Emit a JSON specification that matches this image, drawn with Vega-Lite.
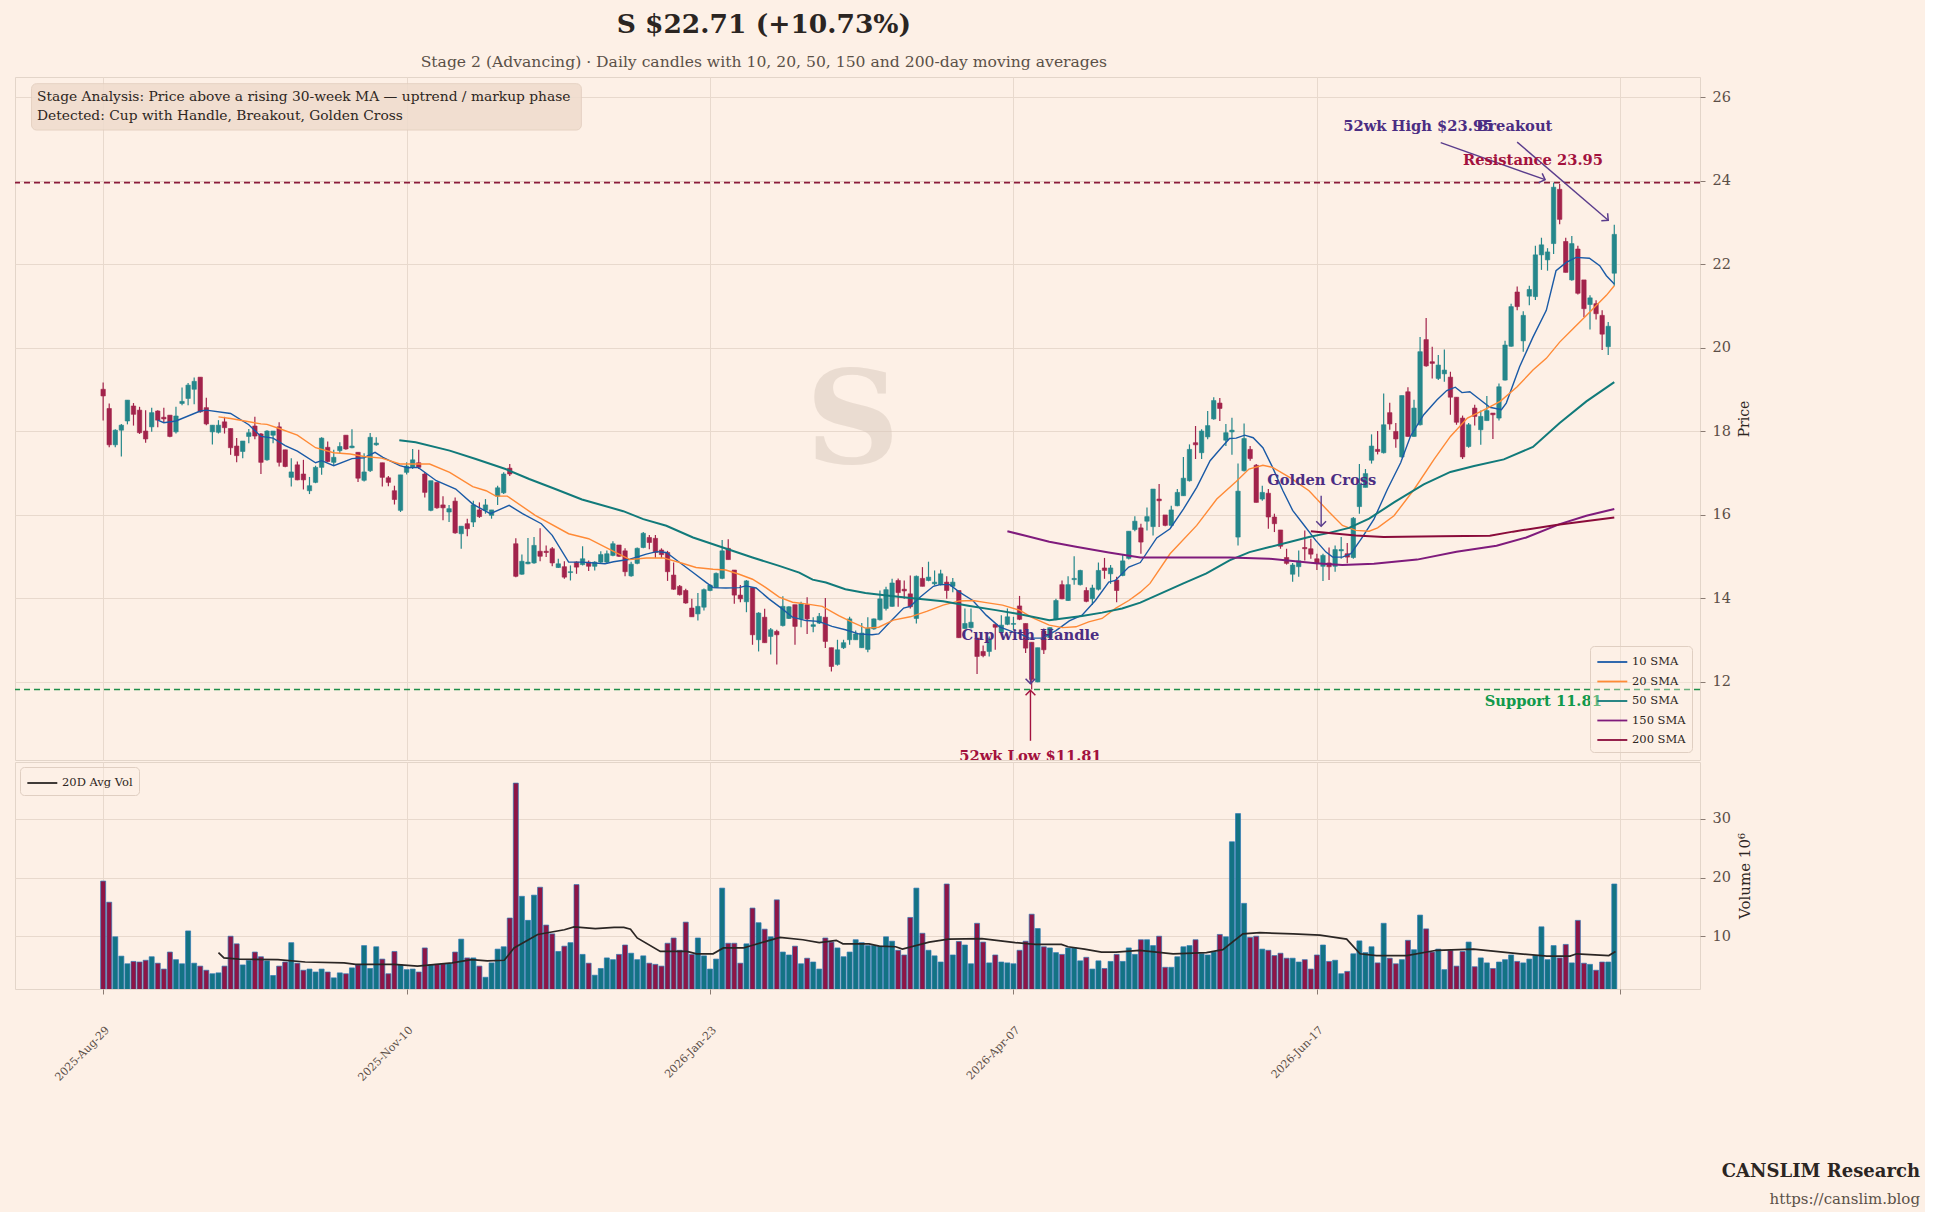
{
  "$schema": "https://vega.github.io/schema/vega-lite/v6.json",
  "background": "#fdf0e6",
  "padding": {"left": 13, "top": 12, "right": 5, "bottom": 5},
  "config": {
    "font": "DejaVu Serif",
    "view": {"stroke": "#e3d5c9", "strokeWidth": 1},
    "axis": {
      "labelFont": "DejaVu Serif", "labelColor": "#5b4e46", "labelFontSize": 14.5,
      "titleFont": "DejaVu Serif", "titleColor": "#2d2622", "titleFontSize": 14.5, "titleFontWeight": "normal",
      "gridColor": "#e8d9cd", "gridWidth": 1, "tickColor": "#8a7b72", "domain": false
    },
    "legend": {
      "labelFont": "DejaVu Serif", "labelColor": "#2d2622", "labelFontSize": 11.5,
      "fillColor": "rgba(253,240,230,0.35)", "strokeColor": "#e0cfc2", "cornerRadius": 4, "padding": 6,
      "symbolType": "M-1,0L2.46,0", "symbolStrokeWidth": 1.8, "symbolSize": 300, "rowPadding": 3.5, "labelOffset": 16
    }
  },
  "title": {
    "text": "S  $22.71  (+10.73%)",
    "subtitle": "Stage 2 (Advancing)  ·  Daily candles with 10, 20, 50, 150 and 200-day moving averages",
    "anchor": "middle", "dx": -203, "fontSize": 26.5, "fontWeight": "bold", "color": "#2b2522",
    "subtitleFontSize": 15.6, "subtitleColor": "#5b5048", "subtitlePadding": 16, "offset": 6
  },
  "spacing": 0,
  "resolve": {"scale": {"x": "independent", "y": "independent", "color": "independent"}, "legend": {"color": "independent"}},
  "datasets": {
    "ohlc": [
      {"i":0,"o":19.0,"h":19.16,"l":18.25,"c":18.84,"v":19.4},
      {"i":1,"o":18.54,"h":18.66,"l":17.61,"c":17.67,"v":15.8},
      {"i":2,"o":17.67,"h":18.04,"l":17.61,"c":18.02,"v":9.9},
      {"i":3,"o":18.02,"h":18.17,"l":17.39,"c":18.14,"v":6.6},
      {"i":4,"o":18.24,"h":18.74,"l":18.16,"c":18.74,"v":5.3},
      {"i":5,"o":18.6,"h":18.67,"l":18.13,"c":18.4,"v":5.7},
      {"i":6,"o":18.5,"h":18.58,"l":17.93,"c":17.96,"v":5.6},
      {"i":7,"o":18.0,"h":18.5,"l":17.72,"c":17.81,"v":5.9},
      {"i":8,"o":18.1,"h":18.56,"l":17.98,"c":18.44,"v":6.5},
      {"i":9,"o":18.48,"h":18.5,"l":18.09,"c":18.26,"v":5.4},
      {"i":10,"o":18.33,"h":18.56,"l":18.21,"c":18.29,"v":4.4},
      {"i":11,"o":18.38,"h":18.38,"l":17.85,"c":17.87,"v":7.3},
      {"i":12,"o":17.98,"h":18.58,"l":17.94,"c":18.36,"v":6.0},
      {"i":13,"o":18.66,"h":19.04,"l":18.62,"c":18.71,"v":5.3},
      {"i":14,"o":18.78,"h":19.15,"l":18.62,"c":19.1,"v":10.9},
      {"i":15,"o":19.0,"h":19.28,"l":18.64,"c":19.19,"v":5.4},
      {"i":16,"o":19.29,"h":19.29,"l":18.44,"c":18.46,"v":4.9},
      {"i":17,"o":18.56,"h":18.8,"l":18.14,"c":18.17,"v":4.2},
      {"i":18,"o":17.98,"h":18.14,"l":17.68,"c":18.14,"v":3.6},
      {"i":19,"o":17.97,"h":18.26,"l":17.94,"c":18.14,"v":3.75},
      {"i":20,"o":18.22,"h":18.34,"l":17.94,"c":18.08,"v":4.9},
      {"i":21,"o":18.06,"h":18.06,"l":17.43,"c":17.6,"v":10.0},
      {"i":22,"o":17.64,"h":17.83,"l":17.25,"c":17.41,"v":8.7},
      {"i":23,"o":17.51,"h":17.76,"l":17.35,"c":17.76,"v":5.1},
      {"i":24,"o":17.87,"h":18.05,"l":17.71,"c":17.96,"v":5.85},
      {"i":25,"o":18.12,"h":18.34,"l":17.8,"c":17.88,"v":7.3},
      {"i":26,"o":17.93,"h":17.95,"l":16.97,"c":17.25,"v":6.5},
      {"i":27,"o":17.31,"h":18.02,"l":17.29,"c":18.0,"v":5.8},
      {"i":28,"o":17.9,"h":18.0,"l":17.71,"c":18.0,"v":3.3},
      {"i":29,"o":18.1,"h":18.21,"l":17.15,"c":17.25,"v":4.9},
      {"i":30,"o":17.55,"h":17.55,"l":17.13,"c":17.15,"v":5.6},
      {"i":31,"o":16.89,"h":17.35,"l":16.67,"c":17.02,"v":8.9},
      {"i":32,"o":17.19,"h":17.27,"l":16.82,"c":16.83,"v":5.4},
      {"i":33,"o":16.97,"h":17.31,"l":16.6,"c":16.83,"v":4.2},
      {"i":34,"o":16.57,"h":16.9,"l":16.49,"c":16.69,"v":4.4},
      {"i":35,"o":16.77,"h":17.17,"l":16.75,"c":17.13,"v":3.9},
      {"i":36,"o":17.13,"h":17.85,"l":16.95,"c":17.83,"v":4.4},
      {"i":37,"o":17.61,"h":17.75,"l":17.25,"c":17.27,"v":3.9},
      {"i":38,"o":17.25,"h":17.55,"l":17.17,"c":17.37,"v":2.9},
      {"i":39,"o":17.53,"h":17.73,"l":17.47,"c":17.63,"v":3.75},
      {"i":40,"o":17.9,"h":17.9,"l":17.55,"c":17.57,"v":3.6},
      {"i":41,"o":17.6,"h":18.04,"l":17.59,"c":17.64,"v":4.6},
      {"i":42,"o":17.49,"h":17.49,"l":16.78,"c":16.87,"v":5.1},
      {"i":43,"o":16.82,"h":17.47,"l":16.79,"c":17.02,"v":8.4},
      {"i":44,"o":17.05,"h":17.95,"l":17.02,"c":17.85,"v":4.5},
      {"i":45,"o":17.67,"h":17.85,"l":17.65,"c":17.71,"v":8.2},
      {"i":46,"o":17.24,"h":17.24,"l":16.67,"c":16.89,"v":6.1},
      {"i":47,"o":16.88,"h":16.92,"l":16.68,"c":16.77,"v":3.6},
      {"i":48,"o":16.57,"h":16.69,"l":16.24,"c":16.36,"v":7.4},
      {"i":49,"o":16.1,"h":16.95,"l":16.06,"c":16.95,"v":5.1},
      {"i":50,"o":17.01,"h":17.25,"l":16.96,"c":17.16,"v":4.3},
      {"i":51,"o":17.13,"h":17.57,"l":17.09,"c":17.31,"v":4.4},
      {"i":52,"o":17.24,"h":17.55,"l":17.09,"c":17.13,"v":3.9},
      {"i":53,"o":16.97,"h":17.01,"l":16.41,"c":16.53,"v":8.0},
      {"i":54,"o":16.1,"h":16.81,"l":16.08,"c":16.81,"v":5.1},
      {"i":55,"o":16.77,"h":16.77,"l":16.14,"c":16.16,"v":5.2},
      {"i":56,"o":16.23,"h":16.44,"l":15.86,"c":16.16,"v":5.3},
      {"i":57,"o":16.06,"h":16.23,"l":15.82,"c":16.14,"v":5.3},
      {"i":58,"o":16.32,"h":16.41,"l":15.54,"c":15.56,"v":7.3},
      {"i":59,"o":15.54,"h":15.72,"l":15.18,"c":15.72,"v":9.5},
      {"i":60,"o":15.78,"h":15.9,"l":15.48,"c":15.66,"v":6.3},
      {"i":61,"o":15.82,"h":16.33,"l":15.7,"c":16.23,"v":6.3},
      {"i":62,"o":16.11,"h":16.29,"l":15.92,"c":15.95,"v":4.9},
      {"i":63,"o":16.1,"h":16.37,"l":16.02,"c":16.23,"v":3.0},
      {"i":64,"o":15.98,"h":16.11,"l":15.9,"c":16.11,"v":5.45},
      {"i":65,"o":16.44,"h":16.69,"l":16.23,"c":16.64,"v":7.8},
      {"i":66,"o":16.52,"h":17.01,"l":16.49,"c":16.97,"v":8.2},
      {"i":67,"o":17.11,"h":17.21,"l":16.92,"c":16.97,"v":13.1},
      {"i":68,"o":15.3,"h":15.43,"l":14.5,"c":14.52,"v":36.1},
      {"i":69,"o":14.57,"h":15.04,"l":14.56,"c":14.88,"v":16.8},
      {"i":70,"o":14.82,"h":15.44,"l":14.81,"c":14.86,"v":12.7},
      {"i":71,"o":14.84,"h":15.46,"l":14.82,"c":15.26,"v":17.0},
      {"i":72,"o":15.12,"h":15.67,"l":14.88,"c":15.0,"v":18.35},
      {"i":73,"o":15.12,"h":15.26,"l":14.98,"c":15.09,"v":11.9},
      {"i":74,"o":15.18,"h":15.22,"l":14.76,"c":14.84,"v":10.4},
      {"i":75,"o":14.73,"h":14.94,"l":14.72,"c":14.82,"v":7.4},
      {"i":76,"o":14.75,"h":14.88,"l":14.46,"c":14.5,"v":8.3},
      {"i":77,"o":14.61,"h":14.78,"l":14.42,"c":14.63,"v":8.9},
      {"i":78,"o":14.86,"h":14.88,"l":14.58,"c":14.74,"v":18.8},
      {"i":79,"o":14.8,"h":15.24,"l":14.78,"c":14.94,"v":6.9},
      {"i":80,"o":14.86,"h":14.9,"l":14.65,"c":14.76,"v":5.4},
      {"i":81,"o":14.76,"h":14.88,"l":14.66,"c":14.86,"v":3.35},
      {"i":82,"o":14.86,"h":15.12,"l":14.84,"c":15.04,"v":4.5},
      {"i":83,"o":14.86,"h":15.14,"l":14.82,"c":15.06,"v":6.3},
      {"i":84,"o":15.02,"h":15.36,"l":15.0,"c":15.3,"v":6.0},
      {"i":85,"o":15.27,"h":15.27,"l":14.98,"c":15.0,"v":6.9},
      {"i":86,"o":15.13,"h":15.19,"l":14.52,"c":14.63,"v":8.5},
      {"i":87,"o":14.53,"h":14.87,"l":14.51,"c":14.81,"v":7.1},
      {"i":88,"o":14.83,"h":15.21,"l":14.81,"c":15.19,"v":6.0},
      {"i":89,"o":15.21,"h":15.58,"l":15.19,"c":15.55,"v":6.65},
      {"i":90,"o":15.45,"h":15.51,"l":15.17,"c":15.33,"v":5.4},
      {"i":91,"o":15.43,"h":15.51,"l":14.96,"c":15.09,"v":5.2},
      {"i":92,"o":15.15,"h":15.19,"l":14.96,"c":15.04,"v":4.9},
      {"i":93,"o":15.09,"h":15.13,"l":14.41,"c":14.63,"v":8.8},
      {"i":94,"o":14.55,"h":14.85,"l":14.2,"c":14.21,"v":9.7},
      {"i":95,"o":14.28,"h":14.31,"l":14.06,"c":14.08,"v":7.6},
      {"i":96,"o":14.18,"h":14.22,"l":13.86,"c":13.88,"v":12.4},
      {"i":97,"o":13.76,"h":13.98,"l":13.55,"c":13.55,"v":6.9},
      {"i":98,"o":13.62,"h":14.12,"l":13.46,"c":13.8,"v":9.7},
      {"i":99,"o":13.78,"h":14.23,"l":13.7,"c":14.2,"v":6.65},
      {"i":100,"o":14.18,"h":14.33,"l":14.16,"c":14.31,"v":4.4},
      {"i":101,"o":14.25,"h":14.61,"l":14.24,"c":14.59,"v":6.1},
      {"i":102,"o":14.47,"h":15.39,"l":14.45,"c":15.13,"v":18.2},
      {"i":103,"o":15.19,"h":15.41,"l":14.92,"c":14.92,"v":8.8},
      {"i":104,"o":14.67,"h":14.67,"l":13.86,"c":14.07,"v":8.8},
      {"i":105,"o":14.07,"h":14.31,"l":13.9,"c":13.98,"v":5.4},
      {"i":106,"o":13.91,"h":14.43,"l":13.66,"c":14.41,"v":8.7},
      {"i":107,"o":14.25,"h":14.25,"l":12.88,"c":13.12,"v":14.8},
      {"i":108,"o":13.0,"h":13.66,"l":12.72,"c":13.64,"v":12.3},
      {"i":109,"o":13.54,"h":13.74,"l":12.93,"c":12.93,"v":11.2},
      {"i":110,"o":13.08,"h":13.28,"l":12.65,"c":13.24,"v":9.9},
      {"i":111,"o":13.2,"h":13.24,"l":12.41,"c":13.12,"v":16.2},
      {"i":112,"o":13.34,"h":14.04,"l":13.32,"c":13.8,"v":7.3},
      {"i":113,"o":13.51,"h":13.8,"l":13.5,"c":13.79,"v":6.8},
      {"i":114,"o":13.84,"h":13.84,"l":12.88,"c":13.32,"v":8.3},
      {"i":115,"o":13.5,"h":13.91,"l":13.3,"c":13.86,"v":5.3},
      {"i":116,"o":13.84,"h":14.02,"l":13.14,"c":13.5,"v":6.25},
      {"i":117,"o":13.32,"h":13.54,"l":13.18,"c":13.36,"v":5.6},
      {"i":118,"o":13.4,"h":13.64,"l":13.38,"c":13.56,"v":4.4},
      {"i":119,"o":13.54,"h":14.0,"l":12.8,"c":12.96,"v":9.7},
      {"i":120,"o":12.81,"h":12.81,"l":12.24,"c":12.36,"v":9.0},
      {"i":121,"o":12.41,"h":13.0,"l":12.38,"c":12.76,"v":8.0},
      {"i":122,"o":12.81,"h":13.0,"l":12.78,"c":12.93,"v":6.5},
      {"i":123,"o":13.0,"h":13.55,"l":12.88,"c":13.5,"v":7.3},
      {"i":124,"o":13.0,"h":13.22,"l":13.0,"c":13.14,"v":9.4},
      {"i":125,"o":12.81,"h":13.4,"l":12.8,"c":13.16,"v":8.9},
      {"i":126,"o":12.77,"h":13.54,"l":12.7,"c":13.28,"v":8.4},
      {"i":127,"o":13.26,"h":13.51,"l":13.24,"c":13.5,"v":8.4},
      {"i":128,"o":13.48,"h":14.18,"l":13.46,"c":13.98,"v":8.3},
      {"i":129,"o":13.75,"h":14.27,"l":13.7,"c":14.2,"v":9.9},
      {"i":130,"o":13.8,"h":14.46,"l":13.79,"c":14.36,"v":9.15},
      {"i":131,"o":14.42,"h":14.47,"l":13.79,"c":14.13,"v":7.6},
      {"i":132,"o":14.21,"h":14.42,"l":13.98,"c":14.17,"v":6.8},
      {"i":133,"o":14.1,"h":14.54,"l":13.75,"c":13.79,"v":13.2},
      {"i":134,"o":13.51,"h":14.54,"l":13.39,"c":14.52,"v":18.2},
      {"i":135,"o":14.47,"h":14.74,"l":14.28,"c":14.28,"v":10.5},
      {"i":136,"o":14.42,"h":14.87,"l":14.4,"c":14.5,"v":7.6},
      {"i":137,"o":14.34,"h":14.66,"l":14.3,"c":14.38,"v":6.65},
      {"i":138,"o":14.32,"h":14.68,"l":14.3,"c":14.58,"v":5.6},
      {"i":139,"o":14.38,"h":14.52,"l":13.98,"c":14.18,"v":18.9},
      {"i":140,"o":14.28,"h":14.48,"l":14.14,"c":14.38,"v":6.8},
      {"i":141,"o":14.18,"h":14.18,"l":13.04,"c":13.05,"v":9.1},
      {"i":142,"o":13.27,"h":13.75,"l":13.26,"c":13.39,"v":8.5},
      {"i":143,"o":13.29,"h":13.75,"l":13.27,"c":13.42,"v":5.3},
      {"i":144,"o":13.04,"h":13.04,"l":12.18,"c":12.6,"v":12.2},
      {"i":145,"o":12.72,"h":12.86,"l":12.58,"c":12.62,"v":9.0},
      {"i":146,"o":12.72,"h":13.08,"l":12.6,"c":13.0,"v":5.45},
      {"i":147,"o":13.37,"h":13.37,"l":12.76,"c":13.3,"v":6.8},
      {"i":148,"o":13.19,"h":13.59,"l":13.18,"c":13.35,"v":5.6},
      {"i":149,"o":13.37,"h":13.75,"l":13.35,"c":13.55,"v":5.45},
      {"i":150,"o":13.37,"h":13.55,"l":13.23,"c":13.39,"v":5.3},
      {"i":151,"o":13.81,"h":14.05,"l":13.47,"c":13.49,"v":7.6},
      {"i":152,"o":13.39,"h":13.39,"l":12.68,"c":12.8,"v":9.15},
      {"i":153,"o":12.94,"h":12.94,"l":11.81,"c":12.05,"v":13.75},
      {"i":154,"o":11.99,"h":12.81,"l":11.98,"c":12.81,"v":11.3},
      {"i":155,"o":13.21,"h":13.27,"l":12.66,"c":12.76,"v":8.2},
      {"i":156,"o":13.05,"h":13.3,"l":13.04,"c":13.29,"v":8.0},
      {"i":157,"o":13.49,"h":13.98,"l":13.47,"c":13.94,"v":7.2},
      {"i":158,"o":14.32,"h":14.42,"l":13.97,"c":13.98,"v":6.9},
      {"i":159,"o":13.94,"h":14.52,"l":13.93,"c":14.32,"v":8.0},
      {"i":160,"o":14.44,"h":15.0,"l":14.32,"c":14.47,"v":8.0},
      {"i":161,"o":14.32,"h":14.68,"l":14.3,"c":14.66,"v":5.8},
      {"i":162,"o":14.18,"h":14.26,"l":13.9,"c":13.92,"v":6.4},
      {"i":163,"o":13.98,"h":14.32,"l":13.84,"c":14.24,"v":4.4},
      {"i":164,"o":14.21,"h":14.85,"l":14.18,"c":14.66,"v":5.8},
      {"i":165,"o":14.72,"h":14.96,"l":14.46,"c":14.66,"v":4.5},
      {"i":166,"o":14.58,"h":14.79,"l":14.34,"c":14.72,"v":5.7},
      {"i":167,"o":14.43,"h":14.51,"l":13.9,"c":14.18,"v":6.9},
      {"i":168,"o":14.54,"h":15.03,"l":14.52,"c":14.89,"v":5.7},
      {"i":169,"o":14.95,"h":15.6,"l":14.92,"c":15.6,"v":8.0},
      {"i":170,"o":15.64,"h":15.96,"l":15.6,"c":15.84,"v":6.9},
      {"i":171,"o":15.68,"h":15.78,"l":15.06,"c":15.34,"v":9.4},
      {"i":172,"o":15.84,"h":16.17,"l":15.62,"c":15.95,"v":9.4},
      {"i":173,"o":15.71,"h":16.61,"l":15.5,"c":16.61,"v":8.4},
      {"i":174,"o":16.37,"h":16.73,"l":15.7,"c":16.33,"v":10.0},
      {"i":175,"o":15.99,"h":15.99,"l":15.72,"c":15.74,"v":4.7},
      {"i":176,"o":15.74,"h":16.21,"l":15.7,"c":16.11,"v":4.7},
      {"i":177,"o":16.21,"h":16.61,"l":16.2,"c":16.53,"v":6.5},
      {"i":178,"o":16.45,"h":17.38,"l":16.45,"c":16.87,"v":8.2},
      {"i":179,"o":16.81,"h":17.68,"l":16.79,"c":17.56,"v":8.4},
      {"i":180,"o":17.72,"h":18.12,"l":17.33,"c":17.67,"v":9.4},
      {"i":181,"o":17.48,"h":18.04,"l":17.33,"c":18.0,"v":7.0},
      {"i":182,"o":17.86,"h":18.48,"l":17.8,"c":18.13,"v":6.8},
      {"i":183,"o":18.29,"h":18.81,"l":18.27,"c":18.73,"v":7.3},
      {"i":184,"o":18.67,"h":18.79,"l":18.24,"c":18.54,"v":10.3},
      {"i":185,"o":17.78,"h":18.17,"l":17.64,"c":17.96,"v":9.9},
      {"i":186,"o":17.98,"h":18.32,"l":17.43,"c":18.02,"v":26.1},
      {"i":187,"o":15.46,"h":17.22,"l":15.26,"c":16.56,"v":30.9},
      {"i":188,"o":17.05,"h":18.18,"l":17.03,"c":17.82,"v":15.6},
      {"i":189,"o":17.56,"h":17.64,"l":17.29,"c":17.34,"v":9.8},
      {"i":190,"o":17.18,"h":17.21,"l":16.29,"c":16.29,"v":10.0},
      {"i":191,"o":16.37,"h":16.69,"l":16.33,"c":16.53,"v":7.8},
      {"i":192,"o":16.51,"h":16.61,"l":15.66,"c":15.94,"v":7.6},
      {"i":193,"o":15.94,"h":16.02,"l":15.58,"c":15.78,"v":6.7},
      {"i":194,"o":15.63,"h":15.63,"l":15.18,"c":15.24,"v":7.1},
      {"i":195,"o":14.97,"h":15.18,"l":14.8,"c":14.83,"v":6.25},
      {"i":196,"o":14.57,"h":14.84,"l":14.39,"c":14.79,"v":6.25},
      {"i":197,"o":14.75,"h":15.14,"l":14.51,"c":14.89,"v":5.6},
      {"i":198,"o":15.21,"h":15.62,"l":14.9,"c":15.18,"v":6.0},
      {"i":199,"o":15.18,"h":15.42,"l":14.94,"c":15.05,"v":4.4},
      {"i":200,"o":14.94,"h":15.06,"l":14.67,"c":14.83,"v":6.8},
      {"i":201,"o":14.76,"h":15.06,"l":14.41,"c":15.02,"v":8.5},
      {"i":202,"o":14.84,"h":15.21,"l":14.43,"c":14.75,"v":5.7},
      {"i":203,"o":14.76,"h":15.26,"l":14.63,"c":15.16,"v":5.9},
      {"i":204,"o":15.13,"h":15.46,"l":14.94,"c":15.16,"v":3.6},
      {"i":205,"o":15.06,"h":15.32,"l":14.83,"c":14.98,"v":4.0},
      {"i":206,"o":14.97,"h":15.94,"l":14.94,"c":15.91,"v":7.0},
      {"i":207,"o":16.19,"h":17.21,"l":16.02,"c":16.73,"v":9.2},
      {"i":208,"o":16.65,"h":17.09,"l":16.65,"c":16.98,"v":7.2},
      {"i":209,"o":17.3,"h":17.92,"l":17.22,"c":17.64,"v":8.2},
      {"i":210,"o":17.56,"h":18.0,"l":17.44,"c":17.51,"v":5.45},
      {"i":211,"o":17.48,"h":18.9,"l":17.46,"c":18.15,"v":12.2},
      {"i":212,"o":18.44,"h":18.68,"l":18.03,"c":18.17,"v":6.25},
      {"i":213,"o":17.99,"h":18.19,"l":17.6,"c":17.81,"v":5.3},
      {"i":214,"o":17.38,"h":18.85,"l":17.36,"c":18.85,"v":6.0},
      {"i":215,"o":18.94,"h":19.05,"l":17.86,"c":17.87,"v":9.3},
      {"i":216,"o":17.87,"h":18.75,"l":17.86,"c":18.55,"v":7.7},
      {"i":217,"o":18.15,"h":20.25,"l":18.13,"c":19.9,"v":13.6},
      {"i":218,"o":20.19,"h":20.71,"l":19.54,"c":19.56,"v":11.25},
      {"i":219,"o":19.66,"h":20.02,"l":19.26,"c":19.62,"v":7.3},
      {"i":220,"o":19.26,"h":19.82,"l":19.22,"c":19.58,"v":7.8},
      {"i":221,"o":19.37,"h":19.95,"l":19.18,"c":19.46,"v":4.3},
      {"i":222,"o":19.29,"h":19.42,"l":18.39,"c":18.81,"v":7.6},
      {"i":223,"o":18.81,"h":18.81,"l":18.15,"c":18.21,"v":4.9},
      {"i":224,"o":18.31,"h":18.37,"l":17.33,"c":17.38,"v":7.4},
      {"i":225,"o":17.63,"h":18.19,"l":17.6,"c":18.15,"v":9.0},
      {"i":226,"o":18.55,"h":18.63,"l":18.13,"c":18.35,"v":4.8},
      {"i":227,"o":18.03,"h":18.49,"l":17.67,"c":18.35,"v":6.3},
      {"i":228,"o":18.25,"h":18.84,"l":18.25,"c":18.49,"v":5.45},
      {"i":229,"o":18.43,"h":18.43,"l":17.81,"c":18.39,"v":4.5},
      {"i":230,"o":18.31,"h":19.14,"l":18.25,"c":19.06,"v":5.6},
      {"i":231,"o":19.22,"h":20.16,"l":19.21,"c":20.06,"v":6.0},
      {"i":232,"o":20.03,"h":21.05,"l":20.02,"c":20.98,"v":6.8},
      {"i":233,"o":21.33,"h":21.46,"l":20.89,"c":20.98,"v":5.7},
      {"i":234,"o":20.16,"h":20.87,"l":19.9,"c":20.77,"v":5.45},
      {"i":235,"o":21.23,"h":21.48,"l":21.01,"c":21.39,"v":6.1},
      {"i":236,"o":21.22,"h":22.44,"l":21.14,"c":22.22,"v":6.7},
      {"i":237,"o":22.22,"h":22.63,"l":21.86,"c":22.46,"v":11.6},
      {"i":238,"o":22.1,"h":22.38,"l":21.84,"c":22.29,"v":6.0},
      {"i":239,"o":22.49,"h":23.95,"l":22.24,"c":23.84,"v":8.4},
      {"i":240,"o":23.79,"h":23.92,"l":22.95,"c":23.07,"v":6.3},
      {"i":241,"o":22.54,"h":22.63,"l":21.8,"c":21.8,"v":8.6},
      {"i":242,"o":21.62,"h":22.67,"l":21.6,"c":22.49,"v":5.45},
      {"i":243,"o":22.36,"h":22.44,"l":21.27,"c":21.3,"v":12.7},
      {"i":244,"o":21.62,"h":21.62,"l":20.73,"c":20.93,"v":5.4},
      {"i":245,"o":21.03,"h":21.25,"l":20.43,"c":21.19,"v":5.2},
      {"i":246,"o":21.05,"h":21.13,"l":20.67,"c":20.81,"v":4.2},
      {"i":247,"o":20.77,"h":20.89,"l":19.94,"c":20.32,"v":5.6},
      {"i":248,"o":20.02,"h":20.61,"l":19.82,"c":20.51,"v":5.6},
      {"i":249,"o":21.78,"h":22.94,"l":21.48,"c":22.71,"v":18.9}
    ],
    "sma10": [
      {"i":9,"v":18.26},{"i":10,"v":18.2},{"i":12,"v":18.24},{"i":16,"v":18.48},{"i":17,"v":18.5},{"i":21,"v":18.42},
      {"i":24,"v":18.15},{"i":26,"v":17.87},{"i":28,"v":17.83},{"i":30,"v":17.65},{"i":32,"v":17.52},{"i":35,"v":17.24},
      {"i":36,"v":17.29},{"i":38,"v":17.17},{"i":41,"v":17.34},{"i":43,"v":17.36},{"i":44.8,"v":17.49},{"i":46.1,"v":17.37},
      {"i":48.9,"v":17.17},{"i":50.2,"v":17.12},{"i":51.9,"v":17.13},{"i":54.9,"v":16.81},{"i":58.1,"v":16.61},{"i":60.9,"v":16.25},
      {"i":63.8,"v":16.02},{"i":66.9,"v":16.22},{"i":69.1,"v":16.02},{"i":72.2,"v":15.78},{"i":74,"v":15.5},{"i":76.7,"v":14.86},
      {"i":78.9,"v":14.86},{"i":82.7,"v":14.82},{"i":84.1,"v":14.87},{"i":86.8,"v":14.93},{"i":89.5,"v":15.05},{"i":91.2,"v":15.11},
      {"i":92.8,"v":15.09},{"i":95,"v":14.85},{"i":97.2,"v":14.61},{"i":99.4,"v":14.37},{"i":100.5,"v":14.25},{"i":102.6,"v":14.24},
      {"i":104.8,"v":14.25},{"i":105.9,"v":14.29},{"i":107.6,"v":14.24},{"i":109.7,"v":13.98},{"i":111.9,"v":13.74},{"i":113.6,"v":13.54},
      {"i":115.8,"v":13.46},{"i":117.9,"v":13.44},{"i":120.1,"v":13.32},{"i":122.3,"v":13.24},{"i":124.5,"v":13.14},{"i":126.7,"v":13.12},
      {"i":127.8,"v":13.14},{"i":129.7,"v":13.43},{"i":131.9,"v":13.76},{"i":133,"v":13.8},{"i":134.6,"v":14.02},{"i":136.8,"v":14.28},
      {"i":137.9,"v":14.32},{"i":139.5,"v":14.32},{"i":141.1,"v":14.14},{"i":143.3,"v":13.94},{"i":145.5,"v":13.59},{"i":147.7,"v":13.31},
      {"i":149.9,"v":13.19},{"i":151,"v":13.15},{"i":152.6,"v":13.04},{"i":154.8,"v":13.04},{"i":157,"v":13.22},{"i":159.2,"v":13.45},
      {"i":161.3,"v":13.59},{"i":163.5,"v":13.94},{"i":165.7,"v":14.38},{"i":166.8,"v":14.42},{"i":169,"v":14.74},{"i":170.9,"v":14.85},
      {"i":173.6,"v":15.44},{"i":175.8,"v":15.66},{"i":178,"v":16.13},{"i":180.2,"v":16.65},{"i":182.4,"v":17.29},{"i":184.5,"v":17.64},
      {"i":185.6,"v":17.82},{"i":186.7,"v":17.83},{"i":188.1,"v":17.9},{"i":189.5,"v":17.84},{"i":191.1,"v":17.6},{"i":192.7,"v":17.13},
      {"i":194.4,"v":16.57},{"i":196,"v":16.1},{"i":197.7,"v":15.78},{"i":199.8,"v":15.38},{"i":201.5,"v":15.1},{"i":202.6,"v":14.98},
      {"i":204.2,"v":14.98},{"i":205.6,"v":15.06},{"i":207.5,"v":15.46},{"i":209.4,"v":15.89},{"i":211.6,"v":16.6},{"i":213.8,"v":17.24},
      {"i":215.4,"v":17.87},{"i":217.6,"v":18.39},{"i":219.8,"v":18.75},{"i":221.4,"v":18.97},{"i":222.8,"v":19.05},{"i":223.9,"v":18.92},
      {"i":225.2,"v":18.94},{"i":226.9,"v":18.75},{"i":228.5,"v":18.57},{"i":230.4,"v":18.51},{"i":231.2,"v":18.67},{"i":233.4,"v":19.54},
      {"i":235.6,"v":20.25},{"i":237.8,"v":20.89},{"i":239.4,"v":21.84},{"i":241.1,"v":22.04},{"i":242.7,"v":22.16},{"i":244.9,"v":22.14},
      {"i":246.6,"v":21.96},{"i":247.7,"v":21.72},{"i":249,"v":21.52}
    ],
    "sma20": [
      {"i":19,"v":18.34},{"i":21,"v":18.3},{"i":26,"v":18.17},{"i":27,"v":18.16},{"i":29,"v":18.06},{"i":32,"v":17.9},
      {"i":35,"v":17.6},{"i":38,"v":17.48},{"i":40.7,"v":17.45},{"i":43,"v":17.39},{"i":45.9,"v":17.35},{"i":48.9,"v":17.21},
      {"i":53.8,"v":17.21},{"i":57.1,"v":17.01},{"i":60.9,"v":16.67},{"i":63.1,"v":16.57},{"i":64.7,"v":16.44},{"i":66.6,"v":16.44},
      {"i":71.2,"v":15.98},{"i":76.7,"v":15.54},{"i":80,"v":15.42},{"i":84.1,"v":15.12},{"i":86.8,"v":14.92},{"i":89.5,"v":14.96},
      {"i":92.3,"v":14.96},{"i":95,"v":14.85},{"i":97.7,"v":14.73},{"i":100.5,"v":14.69},{"i":102.6,"v":14.67},{"i":104.8,"v":14.57},
      {"i":107,"v":14.45},{"i":109.2,"v":14.25},{"i":111.4,"v":14.02},{"i":113.6,"v":13.9},{"i":115.8,"v":13.86},{"i":118.5,"v":13.8},
      {"i":121.2,"v":13.58},{"i":123.4,"v":13.42},{"i":125.6,"v":13.28},{"i":127.8,"v":13.3},{"i":130.2,"v":13.47},{"i":133,"v":13.55},
      {"i":135.7,"v":13.68},{"i":138.4,"v":13.83},{"i":141.1,"v":13.93},{"i":143.3,"v":13.94},{"i":145.5,"v":13.89},{"i":148.2,"v":13.83},
      {"i":151,"v":13.71},{"i":153.1,"v":13.53},{"i":155.9,"v":13.35},{"i":158.1,"v":13.29},{"i":160.3,"v":13.31},{"i":162.4,"v":13.43},
      {"i":164.6,"v":13.51},{"i":166.8,"v":13.75},{"i":169,"v":13.94},{"i":170.9,"v":14.14},{"i":172.5,"v":14.35},{"i":175.8,"v":15.06},
      {"i":180.2,"v":15.74},{"i":183.5,"v":16.37},{"i":186.7,"v":16.79},{"i":188.8,"v":17.09},{"i":191.1,"v":17.18},{"i":192.7,"v":17.13},
      {"i":195.5,"v":16.89},{"i":198.7,"v":16.57},{"i":202,"v":16.06},{"i":204.2,"v":15.74},{"i":206.4,"v":15.62},{"i":208.6,"v":15.6},
      {"i":210,"v":15.68},{"i":212.7,"v":15.97},{"i":216,"v":16.6},{"i":219.3,"v":17.32},{"i":222,"v":17.87},{"i":224.8,"v":18.31},
      {"i":228.1,"v":18.55},{"i":230.2,"v":18.71},{"i":233,"v":19.06},{"i":235.6,"v":19.46},{"i":237.8,"v":19.74},{"i":240,"v":20.13},
      {"i":242.2,"v":20.45},{"i":244.4,"v":20.77},{"i":246.6,"v":21.09},{"i":247.7,"v":21.25},{"i":249,"v":21.48}
    ],
    "sma50": [
      {"i":48.8,"v":17.78},{"i":51.5,"v":17.73},{"i":57.1,"v":17.53},{"i":61.4,"v":17.33},{"i":66.3,"v":17.09},{"i":70.2,"v":16.85},
      {"i":74.5,"v":16.61},{"i":78.9,"v":16.36},{"i":85.7,"v":16.08},{"i":89,"v":15.89},{"i":92.8,"v":15.73},{"i":97.2,"v":15.45},
      {"i":102.1,"v":15.21},{"i":107,"v":14.97},{"i":111.4,"v":14.77},{"i":114.7,"v":14.61},{"i":116.9,"v":14.44},{"i":119.1,"v":14.37},
      {"i":122.3,"v":14.21},{"i":125.6,"v":14.12},{"i":129.1,"v":14.06},{"i":133,"v":14.0},{"i":138.4,"v":13.92},{"i":142.8,"v":13.81},
      {"i":147.1,"v":13.71},{"i":150.4,"v":13.63},{"i":153.1,"v":13.55},{"i":155.9,"v":13.47},{"i":158.1,"v":13.51},{"i":161.3,"v":13.57},
      {"i":164.6,"v":13.65},{"i":167.9,"v":13.75},{"i":170.9,"v":13.89},{"i":178,"v":14.35},{"i":181.8,"v":14.59},{"i":185.6,"v":14.9},
      {"i":188.9,"v":15.1},{"i":192.2,"v":15.22},{"i":195.5,"v":15.34},{"i":198.7,"v":15.46},{"i":202,"v":15.56},{"i":205.3,"v":15.68},
      {"i":208.6,"v":15.9},{"i":212.7,"v":16.29},{"i":217.6,"v":16.72},{"i":222,"v":17.02},{"i":225.9,"v":17.16},{"i":230.8,"v":17.32},
      {"i":235.6,"v":17.62},{"i":240,"v":18.19},{"i":244.4,"v":18.71},{"i":249,"v":19.17}
    ],
    "sma150": [
      {"i":149,"v":15.6},{"i":152,"v":15.49},{"i":155.9,"v":15.35},{"i":160.3,"v":15.23},{"i":165.7,"v":15.09},{"i":170.9,"v":14.97},
      {"i":177.5,"v":14.97},{"i":185.6,"v":14.97},{"i":192.2,"v":14.94},{"i":199.8,"v":14.83},{"i":204.2,"v":14.79},{"i":209.4,"v":14.82},
      {"i":216.5,"v":14.92},{"i":223,"v":15.11},{"i":229.6,"v":15.25},{"i":234.5,"v":15.45},{"i":240,"v":15.77},{"i":244.4,"v":15.97},
      {"i":249,"v":16.13}
    ],
    "sma200": [
      {"i":199,"v":15.6},{"i":202,"v":15.56},{"i":206.4,"v":15.5},{"i":211,"v":15.46},{"i":220.3,"v":15.48},{"i":228.5,"v":15.49},
      {"i":232.3,"v":15.59},{"i":239.4,"v":15.75},{"i":249,"v":15.93}
    ],
    "avgvol": [
      {"i":19,"v":7.2},{"i":19.9,"v":6.3},{"i":22.4,"v":6.1},{"i":28.8,"v":6.0},{"i":33.3,"v":5.6},{"i":39.7,"v":5.45},
      {"i":41.6,"v":5.2},{"i":48,"v":5.2},{"i":51.8,"v":4.9},{"i":57.5,"v":5.45},{"i":60.7,"v":6.0},{"i":63.3,"v":5.8},
      {"i":66.1,"v":5.9},{"i":67.7,"v":8.0},{"i":71.6,"v":10.3},{"i":76,"v":11.1},{"i":77.6,"v":11.6},{"i":81.1,"v":11.3},
      {"i":84.2,"v":11.5},{"i":85.8,"v":11.5},{"i":86.9,"v":11.2},{"i":88,"v":9.7},{"i":91.8,"v":7.4},{"i":96.2,"v":7.4},
      {"i":97.8,"v":7.0},{"i":100.5,"v":7.0},{"i":102.2,"v":8.0},{"i":105.5,"v":8.0},{"i":109.8,"v":9.3},{"i":111.5,"v":9.8},
      {"i":115.3,"v":9.4},{"i":118,"v":8.9},{"i":120.8,"v":9.3},{"i":121.9,"v":8.7},{"i":126.2,"v":8.7},{"i":127.9,"v":8.3},
      {"i":130.6,"v":8.2},{"i":131.7,"v":7.8},{"i":136.1,"v":9.0},{"i":139.3,"v":9.5},{"i":144.8,"v":9.6},{"i":150.3,"v":8.9},
      {"i":153.6,"v":8.6},{"i":157.9,"v":8.6},{"i":159,"v":8.2},{"i":161.7,"v":7.8},{"i":164.5,"v":7.3},{"i":166.9,"v":7.3},
      {"i":170.8,"v":7.6},{"i":176.3,"v":7.0},{"i":181.8,"v":7.2},{"i":184.5,"v":7.7},{"i":187.8,"v":10.4},{"i":190.6,"v":10.6},
      {"i":196.1,"v":10.4},{"i":200.5,"v":10.2},{"i":204.9,"v":9.5},{"i":207.1,"v":7.0},{"i":209.8,"v":6.7},{"i":214.8,"v":6.7},
      {"i":219.7,"v":7.6},{"i":225.8,"v":7.8},{"i":233.5,"v":7.0},{"i":237.9,"v":6.6},{"i":241.7,"v":6.6},{"i":242.8,"v":7.0},
      {"i":248.1,"v":6.7},{"i":249.2,"v":7.4}
    ]
  },
  "vconcat": [
    {
      "width": 1685,
      "height": 683,
      "layer": [
        {
          "data": {"values": [{"t": "box"}]},
          "mark": {"type": "rect", "fill": "#efdccd", "opacity": 0.85, "stroke": "#e2cdbd", "cornerRadius": 5},
          "encoding": {
            "x": {"datum": -11.8, "type": "quantitative", "scale": {"domain": [-13.7, 262.3], "nice": false, "zero": false},
                  "axis": {"values": [0, 50, 100, 150, 200, 250], "labels": false, "ticks": false, "title": null, "grid": true}},
            "x2": {"datum": 78.8},
            "y": {"datum": 25.21, "type": "quantitative", "scale": {"domain": [10.12, 26.48], "nice": false, "zero": false},
                  "axis": {"orient": "right", "values": [12, 14, 16, 18, 20, 22, 24, 26], "title": "Price", "titleAngle": 270,
                           "titleBaseline": "top", "titleFontSize": 14, "tickSize": 5, "labelPadding": 7, "titlePadding": 7, "grid": true}},
            "y2": {"datum": 26.32}
          }
        },
        {
          "data": {"values": [{"t": "S"}]},
          "mark": {"type": "text", "fontSize": 130, "fontWeight": "bold", "color": "#d9c9bd", "opacity": 0.5, "baseline": "middle", "align": "center"},
          "encoding": {
            "text": {"field": "t"},
            "x": {"datum": 123.5, "type": "quantitative"},
            "y": {"datum": 18.16, "type": "quantitative"}
          }
        },
        {
          "data": {"values": [{"level": "Resistance", "p": 23.95}]},
          "mark": {"type": "rule", "color": "#8b1a3a", "strokeWidth": 1.6, "strokeDash": [6, 4]},
          "encoding": {"y": {"field": "p", "type": "quantitative"}}
        },
        {
          "data": {"values": [{"level": "Support", "p": 11.81}]},
          "mark": {"type": "rule", "color": "#1f8f4a", "strokeWidth": 1.6, "strokeDash": [6, 4]},
          "encoding": {"y": {"field": "p", "type": "quantitative"}}
        },
        {
          "data": {"name": "ohlc"},
          "mark": {"type": "rule", "strokeWidth": 1.2},
          "encoding": {
            "x": {"field": "i", "type": "quantitative"},
            "y": {"field": "l", "type": "quantitative"},
            "y2": {"field": "h"},
            "color": {"condition": {"test": "datum.c >= datum.o", "value": "#25878b"}, "value": "#a2234b"}
          }
        },
        {
          "data": {"name": "ohlc"},
          "mark": {"type": "bar", "width": 4.4, "strokeWidth": 0.6},
          "encoding": {
            "x": {"field": "i", "type": "quantitative"},
            "y": {"field": "o", "type": "quantitative"},
            "y2": {"field": "c"},
            "color": {"condition": {"test": "datum.c >= datum.o", "value": "#25878b"}, "value": "#a2234b"},
            "stroke": {"condition": {"test": "datum.c >= datum.o", "value": "#25878b"}, "value": "#a2234b"}
          }
        },
        {
          "data": {"name": "sma10"},
          "mark": {"type": "line", "strokeWidth": 1.4},
          "encoding": {
            "x": {"field": "i", "type": "quantitative"},
            "y": {"field": "v", "type": "quantitative"},
            "color": {"datum": "10 SMA",
                      "scale": {"domain": ["10 SMA", "20 SMA", "50 SMA", "150 SMA", "200 SMA"],
                                "range": ["#1a5aa6", "#ff8a36", "#117a7a", "#7f1b7c", "#8a0b3a"]},
                      "legend": {"orient": "bottom-right", "title": null, "offset": 8}}
          }
        },
        {
          "data": {"name": "sma20"},
          "mark": {"type": "line", "strokeWidth": 1.4},
          "encoding": {
            "x": {"field": "i", "type": "quantitative"},
            "y": {"field": "v", "type": "quantitative"},
            "color": {"datum": "20 SMA"}
          }
        },
        {
          "data": {"name": "sma50"},
          "mark": {"type": "line", "strokeWidth": 2},
          "encoding": {
            "x": {"field": "i", "type": "quantitative"},
            "y": {"field": "v", "type": "quantitative"},
            "color": {"datum": "50 SMA"}
          }
        },
        {
          "data": {"name": "sma150"},
          "mark": {"type": "line", "strokeWidth": 2},
          "encoding": {
            "x": {"field": "i", "type": "quantitative"},
            "y": {"field": "v", "type": "quantitative"},
            "color": {"datum": "150 SMA"}
          }
        },
        {
          "data": {"name": "sma200"},
          "mark": {"type": "line", "strokeWidth": 2},
          "encoding": {
            "x": {"field": "i", "type": "quantitative"},
            "y": {"field": "v", "type": "quantitative"},
            "color": {"datum": "200 SMA"}
          }
        },
        {
          "data": {"values": [
            {"n": "high", "i": 220.4, "p": 24.91, "i2": 237.6, "p2": 24.02},
            {"n": "breakout", "i": 233.0, "p": 24.92, "i2": 248.0, "p2": 23.05},
            {"n": "golden", "i": 200.7, "p": 16.45, "i2": 200.7, "p2": 15.72},
            {"n": "cup", "i": 152.8, "p": 12.92, "i2": 152.8, "p2": 11.95}
          ]},
          "mark": {"type": "rule", "color": "#5a3c8c", "strokeWidth": 1.4},
          "encoding": {
            "x": {"field": "i", "type": "quantitative"},
            "y": {"field": "p", "type": "quantitative"},
            "x2": {"field": "i2"},
            "y2": {"field": "p2"}
          }
        },
        {
          "data": {"values": [{"n": "low", "i": 152.8, "p": 10.58, "i2": 152.8, "p2": 11.79}]},
          "mark": {"type": "rule", "color": "#a3123e", "strokeWidth": 1.4},
          "encoding": {
            "x": {"field": "i", "type": "quantitative"},
            "y": {"field": "p", "type": "quantitative"},
            "x2": {"field": "i2"},
            "y2": {"field": "p2"}
          }
        },
        {
          "data": {"values": [{"n": "high", "i": 237.6, "p": 24.02}]},
          "mark": {"type": "point", "shape": "M-0.8,0.8L0,0L0.8,0.8", "filled": false, "size": 150, "strokeWidth": 1.5, "color": "#5a3c8c", "angle": 110, "opacity": 1},
          "encoding": {"x": {"field": "i", "type": "quantitative"}, "y": {"field": "p", "type": "quantitative"}}
        },
        {
          "data": {"values": [{"n": "breakout", "i": 248.0, "p": 23.05}]},
          "mark": {"type": "point", "shape": "M-0.8,0.8L0,0L0.8,0.8", "filled": false, "size": 150, "strokeWidth": 1.5, "color": "#5a3c8c", "angle": 130, "opacity": 1},
          "encoding": {"x": {"field": "i", "type": "quantitative"}, "y": {"field": "p", "type": "quantitative"}}
        },
        {
          "data": {"values": [{"n": "golden", "i": 200.7, "p": 15.72}, {"n": "cup", "i": 152.8, "p": 11.95}]},
          "mark": {"type": "point", "shape": "M-0.8,0.8L0,0L0.8,0.8", "filled": false, "size": 150, "strokeWidth": 1.5, "color": "#5a3c8c", "angle": 180, "opacity": 1},
          "encoding": {"x": {"field": "i", "type": "quantitative"}, "y": {"field": "p", "type": "quantitative"}}
        },
        {
          "data": {"values": [{"n": "low", "i": 152.8, "p": 11.79}]},
          "mark": {"type": "point", "shape": "M-0.8,0.8L0,0L0.8,0.8", "filled": false, "size": 150, "strokeWidth": 1.5, "color": "#a3123e", "angle": 0, "opacity": 1},
          "encoding": {"x": {"field": "i", "type": "quantitative"}, "y": {"field": "p", "type": "quantitative"}}
        },
        {
          "data": {"values": [
            {"t": "52wk High $23.95", "i": 216.7, "p": 25.29},
            {"t": "Breakout", "i": 232.5, "p": 25.29},
            {"t": "Golden Cross", "i": 200.8, "p": 16.81},
            {"t": "Cup with Handle", "i": 152.8, "p": 13.08}
          ]},
          "mark": {"type": "text", "fontSize": 14.7, "fontWeight": "bold", "color": "#4b2d83", "align": "center", "baseline": "middle"},
          "encoding": {"text": {"field": "t"}, "x": {"field": "i", "type": "quantitative"}, "y": {"field": "p", "type": "quantitative"}}
        },
        {
          "data": {"values": [{"t": "Resistance 23.95", "i": 235.6, "p": 24.47}]},
          "mark": {"type": "text", "fontSize": 14.7, "fontWeight": "bold", "color": "#a3123e", "align": "center", "baseline": "middle"},
          "encoding": {"text": {"field": "t"}, "x": {"field": "i", "type": "quantitative"}, "y": {"field": "p", "type": "quantitative"}}
        },
        {
          "data": {"values": [{"t": "52wk Low $11.81", "i": 152.8, "p": 10.19}]},
          "mark": {"type": "text", "fontSize": 14.7, "fontWeight": "bold", "color": "#a3123e", "align": "center", "baseline": "middle", "clip": true},
          "encoding": {"text": {"field": "t"}, "x": {"field": "i", "type": "quantitative"}, "y": {"field": "p", "type": "quantitative"}}
        },
        {
          "data": {"values": [{"t": "Support 11.81", "i": 237.3, "p": 11.5}]},
          "mark": {"type": "text", "fontSize": 14.7, "fontWeight": "bold", "color": "#11994b", "align": "center", "baseline": "middle"},
          "encoding": {"text": {"field": "t"}, "x": {"field": "i", "type": "quantitative"}, "y": {"field": "p", "type": "quantitative"}}
        },
        {
          "data": {"values": [
            {"t": "Stage Analysis: Price above a rising 30-week MA — uptrend / markup phase", "i": -10.9, "p": 25.99},
            {"t": "Detected: Cup with Handle, Breakout, Golden Cross", "i": -10.9, "p": 25.55}
          ]},
          "mark": {"type": "text", "fontSize": 13.8, "color": "#2d2622", "align": "left", "baseline": "middle"},
          "encoding": {"text": {"field": "t"}, "x": {"field": "i", "type": "quantitative"}, "y": {"field": "p", "type": "quantitative"}}
        }
      ]
    },
    {
      "width": 1685,
      "height": 227,
      "layer": [
        {
          "data": {"name": "ohlc"},
          "mark": {"type": "bar", "width": 5, "clip": true, "stroke": "#2f78b6", "strokeWidth": 0.7},
          "encoding": {
            "x": {"field": "i", "type": "quantitative", "scale": {"domain": [-13.7, 262.3], "nice": false, "zero": false},
                  "axis": {"values": [0, 50, 100, 150, 200, 250], "title": null, "grid": true, "tickSize": 5, "labelAngle": -45,
                           "labelAlign": "right", "labelBaseline": "top", "labelFontSize": 11, "labelPadding": 30,
                           "labelExpr": "datum.value == 0 ? '2025-Aug-29' : datum.value == 50 ? '2025-Nov-10' : datum.value == 100 ? '2026-Jan-23' : datum.value == 150 ? '2026-Apr-07' : datum.value == 200 ? '2026-Jun-17' : ''"}},
            "y": {"field": "v", "type": "quantitative", "scale": {"domain": [1, 39.7], "nice": false, "zero": false},
                  "axis": {"orient": "right", "values": [10, 20, 30], "title": "Volume 10⁶", "titleAngle": 270, "titleBaseline": "top",
                           "titleFontSize": 15, "tickSize": 5, "labelPadding": 7, "titlePadding": 7, "grid": true}},
            "color": {"condition": {"test": "datum.c >= datum.o", "value": "#137384"}, "value": "#8e1546"}
          }
        },
        {
          "data": {"name": "avgvol"},
          "mark": {"type": "line", "strokeWidth": 1.7},
          "encoding": {
            "x": {"field": "i", "type": "quantitative"},
            "y": {"field": "v", "type": "quantitative"},
            "color": {"datum": "20D Avg Vol", "scale": {"domain": ["20D Avg Vol"], "range": ["#2b2624"]},
                      "legend": {"orient": "top-left", "title": null, "offset": 5}}
          }
        }
      ]
    },
    {
      "width": 1905,
      "height": 120,
      "view": {"stroke": null},
      "layer": [
        {
          "data": {"values": [{"t": "CANSLIM Research"}]},
          "mark": {"type": "text", "align": "right", "baseline": "middle", "fontSize": 18, "fontWeight": "bold", "color": "#2b2522"},
          "encoding": {
            "text": {"field": "t"},
            "x": {"datum": 1, "type": "quantitative", "scale": {"domain": [0, 1]}, "axis": null},
            "y": {"datum": 32, "type": "quantitative", "scale": {"domain": [0, 120]}, "axis": null}
          }
        },
        {
          "data": {"values": [{"t": "https://canslim.blog"}]},
          "mark": {"type": "text", "align": "right", "baseline": "middle", "fontSize": 15, "color": "#5b5048"},
          "encoding": {
            "text": {"field": "t"},
            "x": {"datum": 1, "type": "quantitative"},
            "y": {"datum": 5, "type": "quantitative"}
          }
        }
      ]
    }
  ]
}
